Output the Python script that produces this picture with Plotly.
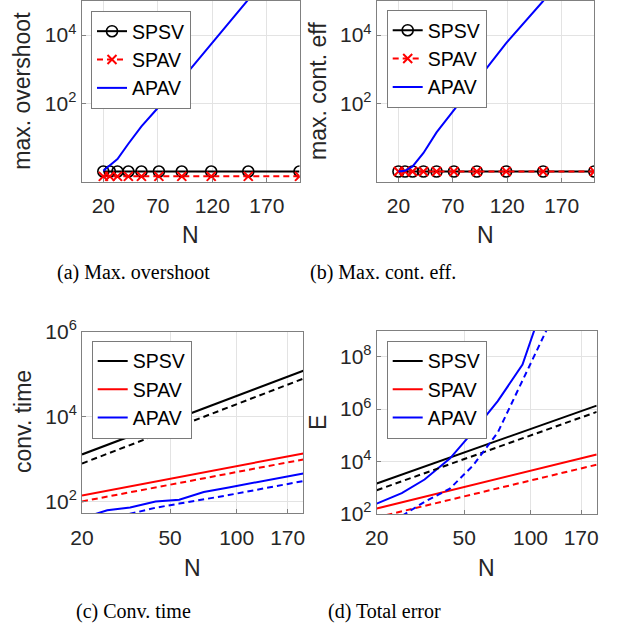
import plotly.graph_objects as go

# ---------------- data ----------------
N = [20, 26, 33, 43, 55, 71, 92, 119, 153, 200]

# (a) max. overshoot
overshoot_spsv = [1.0, 1.0, 1.0, 1.0, 1.0, 1.0, 1.0, 1.0, 1.0, 1.0]
overshoot_spav = [0.72, 0.72, 0.72, 0.72, 0.72, 0.72, 0.72, 0.72, 0.72, 0.72]
overshoot_apav = [1.05, 1.55, 2.3, 6.5, 21, 79, 510, 5750, 1.1e5, 6.3e6]

# (b) max. cont. eff
conteff_spsv = [1.0, 1.0, 1.0, 1.0, 1.0, 1.0, 1.0, 1.0, 1.0, 1.0]
conteff_spav = [1.0, 1.0, 1.0, 1.0, 1.0, 1.0, 1.0, 1.0, 1.0, 1.0]
conteff_apav = [1.0, 1.05, 1.4, 3.5, 14, 63, 480, 5800, 1.0e5, 6.5e6]

# (c) conv. time (solid / dashed)
conv_spsv = [1280, 2140, 3430, 5780, 9400, 15600, 25900, 43100, 70800, 120000]
conv_spsv_d = [783, 1320, 2130, 3620, 5930, 9880, 16600, 27700, 45800, 78300]
conv_spav = [138, 179, 226, 294, 376, 484, 625, 807, 1035, 1350]
conv_spav_d = [100, 130, 164, 214, 272, 351, 454, 585, 752, 977]
conv_apav = [40, 62, 72, 100, 110, 166, 214, 275, 355, 457]
conv_apav_d = [22, 33, 51, 71, 89, 110, 141, 182, 234, 302]

# (d) total error E (solid / dashed)
err_spsv = [1410, 3090, 6280, 13800, 28800, 61700, 133000, 287000, 607000, 1350000]
err_spsv_d = [776, 1710, 3490, 7720, 16100, 34700, 75500, 164000, 347000, 776000]
err_spav = [155, 267, 436, 755, 1260, 2130, 3650, 6210, 10400, 18200]
err_spav_d = [71, 120, 195, 333, 547, 916, 1550, 2590, 4320, 7410]
err_apav = [240, 600, 2000, 12600, 1.4e5, 2.0e6, 5.0e7, 2.0e10, 1.0e13, 1.0e16]
err_apav_d = [20, 80, 280, 890, 7100, 1.26e5, 1.26e7, 1.26e9, 1.0e11, 1.0e13]

lin_ticks = [20, 70, 120, 170]
log_ticks = [20, 50, 100, 170]

BLACK, RED, BLUE = "#000000", "#ff0000", "#0000ff"
SANS = "Liberation Sans, Arial, Helvetica, sans-serif"
SERIF = "Liberation Serif, Times New Roman, serif"
W, H = 617, 626

fig = go.Figure()


def add(x, y, color, name, xa, ya, leg, dash="solid", marker=None, show=True):
    kw = dict(x=x, y=y, name=name, xaxis=xa, yaxis=ya, legend=leg, showlegend=show,
              line=dict(color=color, width=2, dash=dash), hoverinfo="skip")
    if marker is not None:
        kw["mode"] = "lines+markers"
        kw["marker"] = marker
    else:
        kw["mode"] = "lines"
    fig.add_trace(go.Scatter(**kw))


circ = dict(symbol="circle-open", size=11, color=BLACK, line=dict(color=BLACK, width=1.6))
xmk = dict(symbol="x-thin-open", size=9, color=RED, line=dict(color=RED, width=2))
DASH = "6px,4px"

# (a)
add(N, overshoot_spsv, BLACK, "SPSV", "x", "y", "legend", marker=circ)
add(N, overshoot_spav, RED, "SPAV", "x", "y", "legend", dash=DASH, marker=xmk)
add(N, overshoot_apav, BLUE, "APAV", "x", "y", "legend")
# (b)
add(N, conteff_spsv, BLACK, "SPSV", "x2", "y2", "legend2", marker=circ)
add(N, conteff_spav, RED, "SPAV", "x2", "y2", "legend2", dash=DASH, marker=xmk)
add(N, conteff_apav, BLUE, "APAV", "x2", "y2", "legend2")
# (c)
add(N, conv_spsv, BLACK, "SPSV", "x3", "y3", "legend3")
add(N, conv_spav, RED, "SPAV", "x3", "y3", "legend3")
add(N, conv_apav, BLUE, "APAV", "x3", "y3", "legend3")
add(N, conv_spsv_d, BLACK, "SPSV", "x3", "y3", "legend3", dash=DASH, show=False)
add(N, conv_spav_d, RED, "SPAV", "x3", "y3", "legend3", dash=DASH, show=False)
add(N, conv_apav_d, BLUE, "APAV", "x3", "y3", "legend3", dash=DASH, show=False)
# (d)
add(N, err_spsv, BLACK, "SPSV", "x4", "y4", "legend4")
add(N, err_spav, RED, "SPAV", "x4", "y4", "legend4")
add(N, err_apav, BLUE, "APAV", "x4", "y4", "legend4")
add(N, err_spsv_d, BLACK, "SPSV", "x4", "y4", "legend4", dash=DASH, show=False)
add(N, err_spav_d, RED, "SPAV", "x4", "y4", "legend4", dash=DASH, show=False)
add(N, err_apav_d, BLUE, "APAV", "x4", "y4", "legend4", dash=DASH, show=False)

AXC = "#808080"


def ax(**kw):
    d = dict(showline=True, mirror=True, linecolor=AXC, linewidth=1,
             showgrid=True, gridcolor="#e3e3e3", gridwidth=1,
             ticks="inside", ticklen=4, tickcolor=AXC,
             tickfont=dict(family=SANS, size=21, color="#262626"),
             zeroline=False, automargin=False, fixedrange=True)
    d.update(kw)
    return d


def xd(l, r):
    return [l / W, r / W]


def yd(top, bot):
    return [1 - bot / H, 1 - top / H]


def sup(vals):
    return ["10<sup>%d</sup>" % v for v in vals]


def legend(xp, yp):
    return dict(x=xp / W, y=1 - yp / H, xanchor="left", yanchor="top",
                bgcolor="white", bordercolor="#7a7a7a", borderwidth=1,
                font=dict(family=SANS, size=19.5, color="#000000"),
                itemwidth=30, tracegroupgap=0)


fig.update_layout(
    width=W, height=H, margin=dict(l=0, r=0, t=0, b=0),
    paper_bgcolor="white", plot_bgcolor="white", showlegend=True,
    xaxis=ax(domain=xd(81.5, 299.5), range=[0, 200], tickvals=lin_ticks, anchor="y",
             ticklabelstandoff=5),
    yaxis=ax(domain=yd(1, 181.7), type="log", range=[-0.3, 5],
             tickvals=[1e2, 1e4], ticktext=sup([2, 4]), anchor="x"),
    xaxis2=ax(domain=xd(376.7, 594.3), range=[0, 200], tickvals=lin_ticks, anchor="y2",
              ticklabelstandoff=5),
    yaxis2=ax(domain=yd(1, 181.7), type="log", range=[-0.3, 5],
              tickvals=[1e2, 1e4], ticktext=sup([2, 4]), anchor="x2"),
    xaxis3=ax(domain=xd(82, 303.3), type="log", range=[1.30103, 2.30103],
              tickvals=log_ticks, ticktext=[str(v) for v in log_ticks], anchor="y3",
              ticklabelstandoff=5),
    yaxis3=ax(domain=yd(331.7, 513.3), type="log", range=[1.72, 6],
              tickvals=[1e2, 1e4, 1e6], ticktext=sup([2, 4, 6]), anchor="x3"),
    xaxis4=ax(domain=xd(376.7, 596.7), type="log", range=[1.30103, 2.30103],
              tickvals=log_ticks, ticktext=[str(v) for v in log_ticks], anchor="y4",
              ticklabelstandoff=5),
    yaxis4=ax(domain=yd(330.7, 514), type="log", range=[1.98, 9],
              tickvals=[1e2, 1e4, 1e6, 1e8], ticktext=sup([2, 4, 6, 8]), anchor="x4"),
    legend=legend(91, 11),
    legend2=legend(386.7, 10),
    legend3=legend(91.7, 340.7),
    legend4=legend(386.7, 340.7),
)

ann = []


def label(text, xp, yp, size=23, angle=0, family=SANS, color="#262626"):
    ann.append(dict(text=text, x=xp / W, y=1 - yp / H, xref="paper", yref="paper",
                    showarrow=False, textangle=angle, xanchor="center", yanchor="middle",
                    font=dict(family=family, size=size, color=color)))


# axis titles
label("N", 190, 235)
label("N", 485, 235)
label("N", 192, 568)
label("N", 486, 568)
label("max. overshoot", 21.7, 91, angle=-90)
label("max. cont. eff", 318, 91, angle=-90)
label("conv. time", 23, 422, angle=-90)
label("E", 318, 422, angle=-90)
# captions
label("(a) Max. overshoot", 133.7, 272, size=20, family=SERIF, color="#000000")
label("(b) Max. cont. eff.", 383, 272, size=20, family=SERIF, color="#000000")
label("(c) Conv. time", 133.3, 611, size=20, family=SERIF, color="#000000")
label("(d) Total error", 384, 611, size=20, family=SERIF, color="#000000")

fig.update_layout(annotations=ann)
fig.write_html("out.html", config={"displayModeBar": False, "staticPlot": True},
               post_script="document.body.style.margin='0px';document.body.style.overflow='hidden';")
